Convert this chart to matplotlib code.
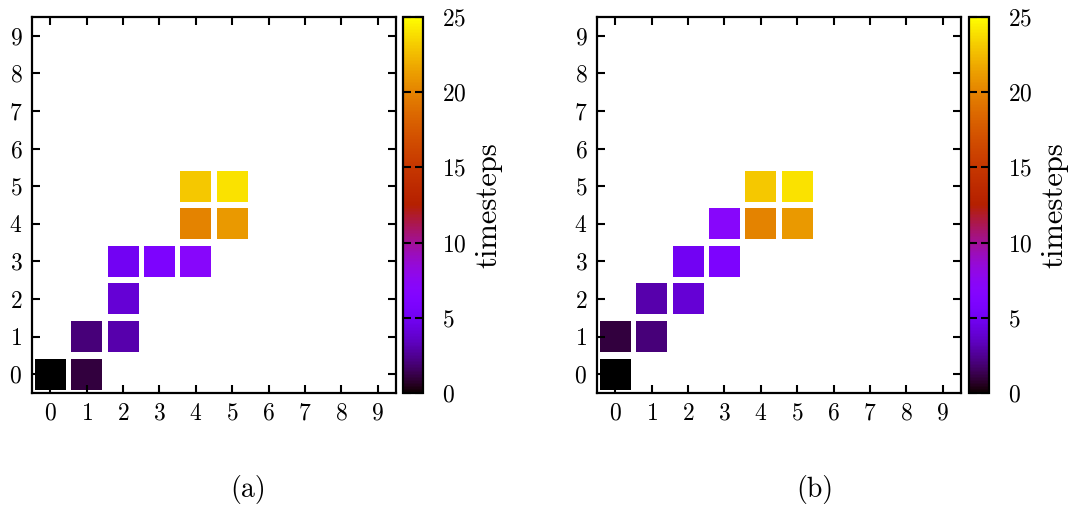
import numpy as np
import matplotlib
matplotlib.use("Agg")
import matplotlib.pyplot as plt

plt.rcParams['font.family'] = 'cmr10'
plt.rcParams['axes.formatter.use_mathtext'] = True

# visited cells (x, y) and the timestep at which each was reached
a_x = [0, 1, 1, 2, 2, 2, 3, 4, 4, 5, 4, 5]
a_y = [0, 0, 1, 1, 2, 3, 3, 3, 4, 4, 5, 5]
a_t = [0, 1, 2, 3, 4, 5, 6, 7, 20, 21, 23, 24]

b_x = [0, 0, 1, 1, 2, 2, 3, 3, 4, 5, 4, 5]
b_y = [0, 1, 1, 2, 2, 3, 3, 4, 4, 4, 5, 5]
b_t = [0, 1, 2, 3, 4, 5, 6, 7, 20, 21, 23, 24]

grid_ticks = list(range(10))
cb_ticks = [0, 5, 10, 15, 20, 25]
panel_labels = ["(a)", "(b)"]

W, H = 1079, 508
fig = plt.figure(figsize=(W / 100, H / 100), dpi=100)

def panel(left, cb_left, xs, ys, ts, label, label_x):
    ax = fig.add_axes([left / W, 1 - 393 / H, 364 / W, 376 / H])
    sc = ax.scatter(xs, ys, c=ts, cmap='gnuplot', vmin=0, vmax=25,
                    marker='s', s=(31 * 0.72) ** 2, linewidths=0)
    ax.set_xlim(-0.5, 9.5)
    ax.set_ylim(-0.5, 9.5)
    ax.set_xticks(grid_ticks)
    ax.set_yticks(grid_ticks)
    ax.tick_params(direction='in', top=True, right=True, length=6, width=1.5,
                   labelsize=17, pad=7)
    for s in ax.spines.values():
        s.set_linewidth(1.6)

    cax = fig.add_axes([cb_left / W, 1 - 393 / H, 20 / W, 376 / H])
    cb = fig.colorbar(sc, cax=cax, ticks=cb_ticks)
    cb.outline.set_linewidth(1.6)
    cax.tick_params(direction='in', left=True, right=True, length=6, width=1.5,
                    labelsize=17, pad=14)
    cb.set_label('timesteps', fontsize=22, rotation=90, va='center')
    cax.yaxis.set_label_coords(4.3, 0.5)

    fig.text(label_x / W, 1 - 490 / H, label, ha='center', va='center', fontsize=20)

panel(32, 403, a_x, a_y, a_t, panel_labels[0], 248)
panel(597, 969, b_x, b_y, b_t, panel_labels[1], 815)

fig.savefig('out.png', dpi=100)
